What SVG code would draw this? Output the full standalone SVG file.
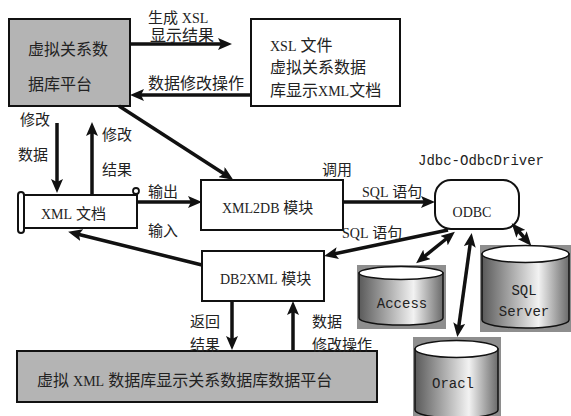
<svg xmlns="http://www.w3.org/2000/svg" width="571" height="416" viewBox="0 0 571 416">
<style>
.t{font-family:"Liberation Serif","Noto Sans CJK SC",serif;font-size:15px;fill:#222}
.m{font-family:"Liberation Mono","Noto Sans CJK SC",monospace;font-size:14px;fill:#222}
.box{fill:#fff;stroke:#111;stroke-width:2}
.gray{fill:#b4b4b4;stroke:#111;stroke-width:2}
.a{stroke:#111;stroke-width:3.5;fill:none}
.cyl{fill:url(#cg);stroke:#111;stroke-width:1.5}
.top{fill:#fff;stroke:#111;stroke-width:1.5}
.bg{fill:#8e8e8e}
</style>
<defs>
<marker id="ah" markerUnits="userSpaceOnUse" markerWidth="14" markerHeight="12" refX="9" refY="6" orient="auto-start-reverse">
<path d="M0,0 L14,6 L0,12 L3,6 z" fill="#111"/>
</marker>
<linearGradient id="cg" x1="0" y1="0" x2="1" y2="0">
<stop offset="0" stop-color="#5a5a5a"/>
<stop offset="0.65" stop-color="#f2f2f2"/>
<stop offset="1" stop-color="#6a6a6a"/>
</linearGradient>
</defs>
<rect width="571" height="416" fill="#fff"/>

<g id="platform-top">
<rect class="gray" x="9" y="19" width="121" height="87"/>
<text class="t" x="28" y="55" style="font-size:16px">虚拟关系数</text>
<text class="t" x="28" y="90" style="font-size:16px">据库平台</text>
</g>

<g id="xsl-file">
<rect class="box" x="251" y="19" width="149" height="87"/>
<text class="t" x="270" y="51" style="font-size:16px"><tspan style="font-size:14px">XSL</tspan> 文件</text>
<text class="t" x="270" y="73" style="font-size:16px">虚拟关系数据</text>
<text class="t" x="270" y="96" style="font-size:16px">库显示<tspan style="font-size:14px">XML</tspan>文档</text>
</g>

<g id="xml-doc">
<path d="M22,195 L137,195 L137,228 L22,228" fill="#fff" stroke="#111" stroke-width="2"/>
<rect x="18" y="192" width="6" height="41" rx="3" fill="#fff" stroke="#111" stroke-width="2"/>
<circle cx="136" cy="191" r="3" fill="#fff" stroke="#111" stroke-width="1.8"/>
<text class="t" x="41" y="219"><tspan style="font-size:14px">XML</tspan> 文档</text>
</g>

<g id="xml2db">
<rect class="box" x="201" y="180" width="142" height="50"/>
<text class="t" x="222" y="213"><tspan style="font-size:14px">XML2DB</tspan> 模块</text>
</g>

<g id="odbc">
<rect class="box" x="435" y="180" width="84" height="49" rx="16"/>
<text class="t" x="472" y="217" text-anchor="middle" style="font-size:14px">ODBC</text>
<text class="m" x="418" y="165">Jdbc-OdbcDriver</text>
</g>

<g id="db2xml">
<rect class="box" x="202" y="251" width="122" height="50"/>
<text class="t" x="220" y="284"><tspan style="font-size:14px">DB2XML</tspan> 模块</text>
</g>

<g id="platform-bottom">
<rect class="gray" x="17" y="351" width="360" height="51"/>
<text class="t" x="37" y="386" style="font-size:16px">虚拟 <tspan style="font-size:14px">XML</tspan> 数据库显示关系数据库数据平台</text>
</g>

<g id="access">
<rect class="bg" x="357" y="265" width="89" height="64"/>
<path class="cyl" d="M359,273 L359,318 A42,7 0 0 0 443,318 L443,273 Z"/>
<ellipse class="top" cx="401" cy="273" rx="42" ry="6.5"/>
<text class="m" x="402" y="308" text-anchor="middle">Access</text>
</g>

<g id="sqlserver">
<rect class="bg" x="480" y="245" width="91" height="87"/>
<path class="cyl" d="M482,254 L482,320 A43.5,8 0 0 0 569,320 L569,254 Z"/>
<ellipse class="top" cx="525.5" cy="254" rx="43.5" ry="8.5"/>
<text class="m" x="524" y="295" text-anchor="middle">SQL</text>
<text class="m" x="524" y="316" text-anchor="middle">Server</text>
</g>

<g id="oracl">
<rect class="bg" x="413" y="337" width="88" height="79"/>
<path class="cyl" d="M415,349 L415,410 A41.5,8 0 0 0 498,410 L498,349 Z"/>
<ellipse class="top" cx="456.5" cy="349" rx="41.5" ry="8.5"/>
<text class="m" x="453" y="388" text-anchor="middle">Oracl</text>
</g>

<g id="connectors">
<line class="a" x1="130" y1="44" x2="227" y2="44" marker-end="url(#ah)"/>
<line class="a" x1="250" y1="95" x2="135" y2="95" marker-end="url(#ah)"/>
<line class="a" x1="119" y1="106" x2="229" y2="177" marker-end="url(#ah)"/>
<line class="a" x1="57" y1="123" x2="57" y2="188" marker-end="url(#ah)"/>
<line class="a" x1="92" y1="195" x2="92" y2="127" marker-end="url(#ah)"/>
<line class="a" x1="138" y1="202" x2="197" y2="202" marker-end="url(#ah)"/>
<line class="a" x1="343" y1="202" x2="430" y2="202" marker-end="url(#ah)"/>
<line class="a" x1="448" y1="230" x2="329" y2="255" marker-end="url(#ah)"/>
<line class="a" x1="202" y1="265" x2="73" y2="233" marker-end="url(#ah)"/>
<line class="a" x1="232" y1="301" x2="232" y2="345" marker-end="url(#ah)"/>
<line class="a" x1="293" y1="351" x2="293" y2="306" marker-end="url(#ah)"/>
<line class="a" x1="451" y1="235" x2="420" y2="260" marker-start="url(#ah)" marker-end="url(#ah)"/>
<line class="a" x1="471" y1="238" x2="458" y2="332" marker-start="url(#ah)" marker-end="url(#ah)"/>
<line class="a" x1="515" y1="227" x2="528" y2="242" marker-start="url(#ah)" marker-end="url(#ah)"/>
</g>

<g id="labels">
<text class="t" x="148" y="23">生成 <tspan style="font-size:14px">XSL</tspan></text>
<text class="t" x="150" y="41" style="font-size:16px">显示结果</text>
<text class="t" x="148" y="89" style="font-size:16px">数据修改操作</text>
<text class="t" x="20" y="125">修改</text>
<text class="t" x="18" y="160">数据</text>
<text class="t" x="102" y="140">修改</text>
<text class="t" x="102" y="175">结果</text>
<text class="t" x="148" y="197">输出</text>
<text class="t" x="148" y="236">输入</text>
<text class="t" x="322" y="175">调用</text>
<text class="t" x="362" y="197"><tspan style="font-size:14px">SQL</tspan> 语句</text>
<text class="t" x="342" y="238"><tspan style="font-size:14px">SQL</tspan> 语句</text>
<text class="t" x="190" y="327">返回</text>
<text class="t" x="190" y="350">结果</text>
<text class="t" x="312" y="327">数据</text>
<text class="t" x="312" y="350">修改操作</text>
</g>
</svg>
